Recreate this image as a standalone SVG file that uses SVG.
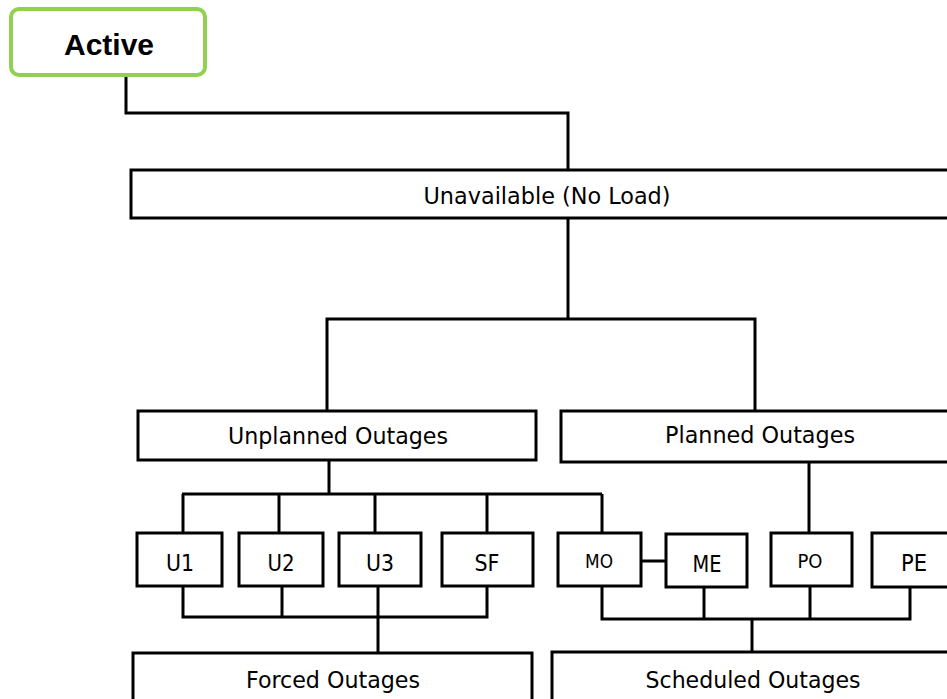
<svg xmlns="http://www.w3.org/2000/svg" width="947" height="699" viewBox="0 0 947 699">
<style>
.box{fill:#fff;stroke:#000;stroke-width:3}
.lbl{font-family:"DejaVu Sans Condensed","DejaVu Sans",sans-serif;font-size:23px;fill:#000;text-anchor:middle}
.sm{font-size:20px}
.ln{fill:none;stroke:#000;stroke-width:3}
</style>
<rect width="947" height="699" fill="#fff"/>
<g id="connectors" class="ln">
<polyline points="126,75 126,113 568,113 568,170"/>
<line x1="568" y1="218" x2="568" y2="319"/>
<polyline points="327,411 327,319 755,319 755,411"/>
<line x1="329" y1="460" x2="329" y2="494"/>
<line x1="182" y1="494" x2="602" y2="494"/>
<line x1="183" y1="494" x2="183" y2="533"/>
<line x1="279" y1="494" x2="279" y2="533"/>
<line x1="375" y1="494" x2="375" y2="533"/>
<line x1="487" y1="494" x2="487" y2="533"/>
<line x1="602" y1="494" x2="602" y2="533"/>
<line x1="809" y1="462" x2="809" y2="533"/>
<line x1="641" y1="561" x2="666" y2="561"/>
<polyline points="183,586 183,617 487,617 487,586"/>
<line x1="282" y1="586" x2="282" y2="617"/>
<line x1="378" y1="586" x2="378" y2="653"/>
<polyline points="602,586 602,619 910,619 910,586"/>
<line x1="704" y1="587" x2="704" y2="619"/>
<line x1="810" y1="586" x2="810" y2="619"/>
<line x1="752" y1="619" x2="752" y2="652"/>
</g>
<g id="active">
<rect x="11" y="9" width="194" height="66" rx="8" fill="#fff" stroke="#92D050" stroke-width="4"/>
<text x="109" y="55" font-family="'Liberation Sans',Arial,sans-serif" font-size="30" font-weight="bold" text-anchor="middle">Active</text>
</g>
<g id="unavailable">
<rect class="box" x="131" y="170" width="830" height="48"/>
<text class="lbl" x="547" y="204" textLength="247" lengthAdjust="spacingAndGlyphs">Unavailable (No Load)</text>
</g>
<g id="unplanned">
<rect class="box" x="138" y="411" width="398" height="49"/>
<text class="lbl" x="338" y="444" textLength="220" lengthAdjust="spacingAndGlyphs">Unplanned Outages</text>
</g>
<g id="planned">
<rect class="box" x="561" y="411" width="400" height="51"/>
<text class="lbl" x="760" y="443" textLength="190" lengthAdjust="spacingAndGlyphs">Planned Outages</text>
</g>
<g id="u1">
<rect class="box" x="137" y="533" width="85" height="53"/>
<text class="lbl" x="180" y="571" textLength="28" lengthAdjust="spacingAndGlyphs">U1</text>
</g>
<g id="u2">
<rect class="box" x="239" y="533" width="84" height="53" stroke-width="4"/>
<text class="lbl" x="281" y="571" textLength="27" lengthAdjust="spacingAndGlyphs">U2</text>
</g>
<g id="u3">
<rect class="box" x="339" y="533" width="82" height="53"/>
<text class="lbl" x="380" y="571" textLength="28" lengthAdjust="spacingAndGlyphs">U3</text>
</g>
<g id="sf">
<rect class="box" x="442" y="533" width="91" height="53"/>
<text class="lbl" x="487" y="571" textLength="25" lengthAdjust="spacingAndGlyphs">SF</text>
</g>
<g id="mo">
<rect class="box" x="558" y="533" width="83" height="53"/>
<text class="lbl sm" x="599" y="568" textLength="28" lengthAdjust="spacingAndGlyphs">MO</text>
</g>
<g id="me">
<rect class="box" x="666" y="534" width="81" height="53"/>
<text class="lbl" x="707" y="572" textLength="29" lengthAdjust="spacingAndGlyphs">ME</text>
</g>
<g id="po">
<rect class="box" x="771" y="533" width="81" height="53"/>
<text class="lbl sm" x="810" y="568" textLength="25" lengthAdjust="spacingAndGlyphs">PO</text>
</g>
<g id="pe">
<rect class="box" x="872" y="533" width="90" height="54"/>
<text class="lbl" x="914" y="571" textLength="26" lengthAdjust="spacingAndGlyphs">PE</text>
</g>
<g id="forced">
<rect class="box" x="133" y="653" width="399" height="60"/>
<text class="lbl" x="333" y="688" textLength="174" lengthAdjust="spacingAndGlyphs">Forced Outages</text>
</g>
<g id="scheduled">
<rect class="box" x="552" y="652" width="410" height="60"/>
<text class="lbl" x="753" y="688" textLength="215" lengthAdjust="spacingAndGlyphs">Scheduled Outages</text>
</g>
</svg>
